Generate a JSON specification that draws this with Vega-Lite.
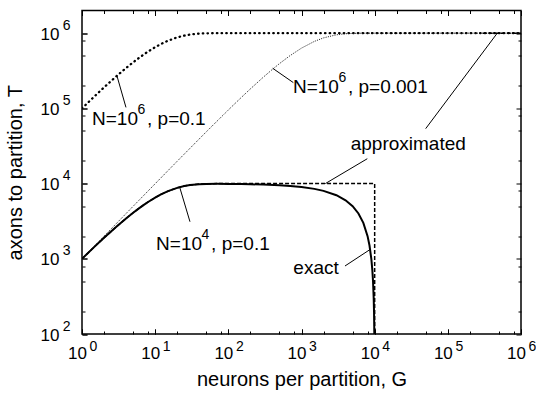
{
  "$schema": "https://vega.github.io/schema/vega-lite/v6.json",
  "autosize": "none",
  "width": 439,
  "height": 323.5,
  "padding": {"left": 82, "top": 10.5, "right": 15, "bottom": 64},
  "background": "white",
  "config": {
    "font": "Liberation Sans",
    "view": {"stroke": "black", "strokeWidth": 1.5},
    "axis": {
      "domain": false, "grid": false, "tickColor": "black", "tickWidth": 1,
      "labelColor": "black", "titleColor": "black",
      "labelFont": "Liberation Sans", "titleFont": "Liberation Sans",
      "labelFontSize": 17, "titleFontSize": 20, "titleFontWeight": "normal",
      "labelOverlap": false, "labelFlush": false
    }
  },
  "datasets": {
    "A": [
      {"G": 1, "T": 100000}, {"G": 1.5, "T": 146200}, {"G": 2, "T": 190000}, {"G": 3, "T": 271000},
      {"G": 4, "T": 343900}, {"G": 5, "T": 409510}, {"G": 6, "T": 468559}, {"G": 7, "T": 521703},
      {"G": 8, "T": 569533}, {"G": 10, "T": 651322}, {"G": 12, "T": 717570}, {"G": 15, "T": 794109},
      {"G": 20, "T": 878423}, {"G": 25, "T": 928210}, {"G": 30, "T": 957609}, {"G": 40, "T": 985219},
      {"G": 50, "T": 994846}, {"G": 70, "T": 999373}, {"G": 100, "T": 999973}, {"G": 200, "T": 1000000},
      {"G": 1000000, "T": 1000000}
    ],
    "B": [
      {"G": 1, "T": 1000}, {"G": 2, "T": 1999}, {"G": 5, "T": 4990}, {"G": 10, "T": 9955},
      {"G": 20, "T": 19811}, {"G": 50, "T": 48794}, {"G": 100, "T": 95208}, {"G": 150, "T": 139357},
      {"G": 200, "T": 181351}, {"G": 300, "T": 259293}, {"G": 400, "T": 329814}, {"G": 500, "T": 393621},
      {"G": 700, "T": 503597}, {"G": 1000, "T": 632305}, {"G": 1500, "T": 777038}, {"G": 2000, "T": 864801},
      {"G": 3000, "T": 950288}, {"G": 4000, "T": 981720}, {"G": 5000, "T": 993279}, {"G": 7000, "T": 999091},
      {"G": 10000, "T": 999955}, {"G": 20000, "T": 1000000}, {"G": 1000000, "T": 1000000}
    ],
    "C": [
      {"G": 1, "T": 1000, "i": 1}, {"G": 1.5, "T": 1462, "i": 2}, {"G": 2, "T": 1900, "i": 3},
      {"G": 3, "T": 2710, "i": 4}, {"G": 4, "T": 3439, "i": 5}, {"G": 5, "T": 4095, "i": 6},
      {"G": 6, "T": 4686, "i": 7}, {"G": 7, "T": 5217, "i": 8}, {"G": 8, "T": 5695, "i": 9},
      {"G": 10, "T": 6513, "i": 10}, {"G": 12, "T": 7176, "i": 11}, {"G": 15, "T": 7941, "i": 12},
      {"G": 20, "T": 8784, "i": 13}, {"G": 25, "T": 9282, "i": 14}, {"G": 30, "T": 9576, "i": 15},
      {"G": 40, "T": 9852, "i": 16}, {"G": 50, "T": 9948, "i": 17}, {"G": 70, "T": 9994, "i": 18},
      {"G": 100, "T": 10000, "i": 19}, {"G": 10000, "T": 10000, "i": 20}, {"G": 10000, "T": 100, "i": 21}
    ],
    "D": [
      {"G": 1, "T": 1000}, {"G": 1.5, "T": 1462}, {"G": 2, "T": 1900}, {"G": 3, "T": 2709},
      {"G": 4, "T": 3438}, {"G": 5, "T": 4093}, {"G": 6, "T": 4683}, {"G": 7, "T": 5213},
      {"G": 8, "T": 5691}, {"G": 10, "T": 6507}, {"G": 12, "T": 7167}, {"G": 15, "T": 7929},
      {"G": 20, "T": 8767}, {"G": 25, "T": 9259}, {"G": 30, "T": 9547}, {"G": 40, "T": 9813},
      {"G": 50, "T": 9899}, {"G": 70, "T": 9924}, {"G": 100, "T": 9900}, {"G": 150, "T": 9850},
      {"G": 200, "T": 9800}, {"G": 300, "T": 9700}, {"G": 500, "T": 9500}, {"G": 700, "T": 9300},
      {"G": 1000, "T": 9000}, {"G": 1500, "T": 8500}, {"G": 2000, "T": 8000}, {"G": 3000, "T": 7000},
      {"G": 4000, "T": 6000}, {"G": 5000, "T": 5000}, {"G": 6000, "T": 4000}, {"G": 7000, "T": 3000},
      {"G": 8000, "T": 2000}, {"G": 8500, "T": 1500}, {"G": 9000, "T": 1000}, {"G": 9300, "T": 700},
      {"G": 9500, "T": 500}, {"G": 9700, "T": 300}, {"G": 9800, "T": 200}, {"G": 9900, "T": 100},
      {"G": 9950, "T": 50}, {"G": 9990, "T": 10}, {"G": 9999, "T": 1}
    ],
    "Atop": [{"G": 300000, "T": 1000000}, {"G": 1000000, "T": 1000000}],
    "leaders": [
      {"G": 2.98, "T": 278000, "G2": 3.99, "T2": 103000},
      {"G": 404, "T": 341000, "G2": 773, "T2": 220000},
      {"G": 474000, "T": 1000000, "G2": 49800, "T2": 53700},
      {"G": 7930, "T": 21400, "G2": 2120, "T2": 10000},
      {"G": 21.8, "T": 8730, "G2": 29.9, "T2": 3110},
      {"G": 3930, "T": 802, "G2": 8450, "T2": 1309}
    ],
    "annN": [
      {"pre": "N=10", "sup": "6", "post": ", p=0.1", "G": 1.37, "T": 60000},
      {"pre": "N=10", "sup": "6", "post": ", p=0.001", "G": 765, "T": 159000},
      {"pre": "N=10", "sup": "4", "post": ", p=0.1", "G": 10.3, "T": 1318}
    ],
    "annW": [
      {"text": "approximated", "G": 4700, "T": 28100},
      {"text": "exact", "G": 773, "T": 631}
    ]
  },
  "resolve": {"axis": {"x": "independent", "y": "independent"}},
  "layer": [
    {
      "data": {"name": "A"},
      "mark": {"type": "line", "color": "black", "strokeWidth": 2.3, "strokeDash": [0.5, 4.2], "strokeCap": "round", "clip": true},
      "encoding": {
        "x": {"field": "G", "type": "quantitative", "scale": {"type": "log", "domain": [1, 1000000], "nice": false},
          "axis": {"orient": "bottom", "values": [1, 10, 100, 1000, 10000, 100000, 1000000],
            "labelExpr": "'10'", "labelBaseline": "alphabetic", "labelOffset": -5,
            "tickSize": -5, "labelPadding": 29.5, "title": "neurons per partition, G", "titlePadding": 8}},
        "y": {"field": "T", "type": "quantitative", "scale": {"type": "log", "domain": [100, 2000000], "nice": false},
          "axis": {"orient": "left", "values": [100, 1000, 10000, 100000, 1000000],
            "labelExpr": "'10'", "labelBaseline": "alphabetic", "labelOffset": 6,
            "tickSize": -5, "labelPadding": 28, "title": "axons to partition, T", "titlePadding": 15}}
      }
    },
    {
      "data": {"name": "B"},
      "mark": {"type": "line", "color": "#111111", "strokeWidth": 1, "strokeDash": [1, 1.3], "clip": true},
      "encoding": {
        "x": {"field": "G", "type": "quantitative", "scale": {"type": "log", "domain": [1, 1000000], "nice": false},
          "axis": {"orient": "top", "values": [1, 10, 100, 1000, 10000, 100000, 1000000], "labels": false, "title": null, "tickSize": -5}},
        "y": {"field": "T", "type": "quantitative", "scale": {"type": "log", "domain": [100, 2000000], "nice": false},
          "axis": {"orient": "right", "values": [100, 1000, 10000, 100000, 1000000], "labels": false, "title": null, "tickSize": -5}}
      }
    },
    {
      "data": {"name": "C"},
      "mark": {"type": "line", "color": "black", "strokeWidth": 1.5, "strokeDash": [4, 2], "clip": true},
      "encoding": {
        "order": {"field": "i", "type": "quantitative"},
        "x": {"field": "G", "type": "quantitative", "scale": {"type": "log", "domain": [1, 1000000], "nice": false},
          "axis": {"orient": "bottom", "values": [2, 5, 8, 20, 50, 80, 200, 500, 800, 2000, 5000, 8000, 20000, 50000, 80000, 200000, 500000, 800000], "labels": false, "title": null, "tickSize": -3}},
        "y": {"field": "T", "type": "quantitative", "scale": {"type": "log", "domain": [100, 2000000], "nice": false},
          "axis": {"orient": "left", "values": [200, 500, 800, 2000, 5000, 8000, 20000, 50000, 80000, 200000, 500000, 800000], "labels": false, "title": null, "tickSize": -3}}
      }
    },
    {
      "data": {"name": "D"},
      "mark": {"type": "line", "color": "black", "strokeWidth": 2, "clip": true},
      "encoding": {
        "x": {"field": "G", "type": "quantitative", "scale": {"type": "log", "domain": [1, 1000000], "nice": false},
          "axis": {"orient": "top", "values": [2, 5, 8, 20, 50, 80, 200, 500, 800, 2000, 5000, 8000, 20000, 50000, 80000, 200000, 500000, 800000], "labels": false, "title": null, "tickSize": -3}},
        "y": {"field": "T", "type": "quantitative", "scale": {"type": "log", "domain": [100, 2000000], "nice": false},
          "axis": {"orient": "right", "values": [200, 500, 800, 2000, 5000, 8000, 20000, 50000, 80000, 200000, 500000, 800000], "labels": false, "title": null, "tickSize": -3}}
      }
    },
    {
      "data": {"name": "Atop"},
      "mark": {"type": "line", "color": "black", "strokeWidth": 1.5, "strokeDash": [4, 2], "clip": true},
      "encoding": {
        "x": {"field": "G", "type": "quantitative", "scale": {"type": "log", "domain": [1, 1000000], "nice": false},
          "axis": {"orient": "bottom", "values": [1, 10, 100, 1000, 10000, 100000, 1000000],
            "labelExpr": "'' + round(log(datum.value)/LN10)", "labelBaseline": "alphabetic", "labelOffset": 11,
            "labelFontSize": 14, "tickSize": -5, "labelPadding": 21.7, "title": null}},
        "y": {"field": "T", "type": "quantitative", "scale": {"type": "log", "domain": [100, 2000000], "nice": false},
          "axis": {"orient": "left", "values": [100, 1000, 10000, 100000, 1000000],
            "labelExpr": "'' + round(log(datum.value)/LN10)", "labelBaseline": "alphabetic", "labelOffset": -4,
            "labelFontSize": 14, "tickSize": -5, "labelPadding": 17, "title": null}}
      }
    },
    {
      "data": {"name": "leaders"},
      "mark": {"type": "rule", "color": "black", "strokeWidth": 1},
      "encoding": {
        "x": {"field": "G", "type": "quantitative", "scale": {"type": "log", "domain": [1, 1000000], "nice": false}, "axis": null},
        "y": {"field": "T", "type": "quantitative", "scale": {"type": "log", "domain": [100, 2000000], "nice": false}, "axis": null},
        "x2": {"field": "G2"},
        "y2": {"field": "T2"}
      }
    },
    {
      "data": {"name": "annN"},
      "mark": {"type": "text", "align": "left", "baseline": "alphabetic", "fontSize": 19, "font": "Liberation Sans", "color": "black"},
      "encoding": {
        "x": {"field": "G", "type": "quantitative", "scale": {"type": "log", "domain": [1, 1000000], "nice": false}, "axis": null},
        "y": {"field": "T", "type": "quantitative", "scale": {"type": "log", "domain": [100, 2000000], "nice": false}, "axis": null},
        "text": {"field": "pre"}
      }
    },
    {
      "data": {"name": "annN"},
      "mark": {"type": "text", "align": "left", "baseline": "alphabetic", "fontSize": 14, "font": "Liberation Sans", "color": "black", "dx": 45.5, "dy": -11},
      "encoding": {
        "x": {"field": "G", "type": "quantitative", "scale": {"type": "log", "domain": [1, 1000000], "nice": false}, "axis": null},
        "y": {"field": "T", "type": "quantitative", "scale": {"type": "log", "domain": [100, 2000000], "nice": false}, "axis": null},
        "text": {"field": "sup"}
      }
    },
    {
      "data": {"name": "annN"},
      "mark": {"type": "text", "align": "left", "baseline": "alphabetic", "fontSize": 19, "font": "Liberation Sans", "color": "black", "dx": 55},
      "encoding": {
        "x": {"field": "G", "type": "quantitative", "scale": {"type": "log", "domain": [1, 1000000], "nice": false}, "axis": null},
        "y": {"field": "T", "type": "quantitative", "scale": {"type": "log", "domain": [100, 2000000], "nice": false}, "axis": null},
        "text": {"field": "post"}
      }
    },
    {
      "data": {"name": "annW"},
      "mark": {"type": "text", "align": "left", "baseline": "alphabetic", "fontSize": 19, "font": "Liberation Sans", "color": "black"},
      "encoding": {
        "x": {"field": "G", "type": "quantitative", "scale": {"type": "log", "domain": [1, 1000000], "nice": false}, "axis": null},
        "y": {"field": "T", "type": "quantitative", "scale": {"type": "log", "domain": [100, 2000000], "nice": false}, "axis": null},
        "text": {"field": "text"}
      }
    }
  ]
}
